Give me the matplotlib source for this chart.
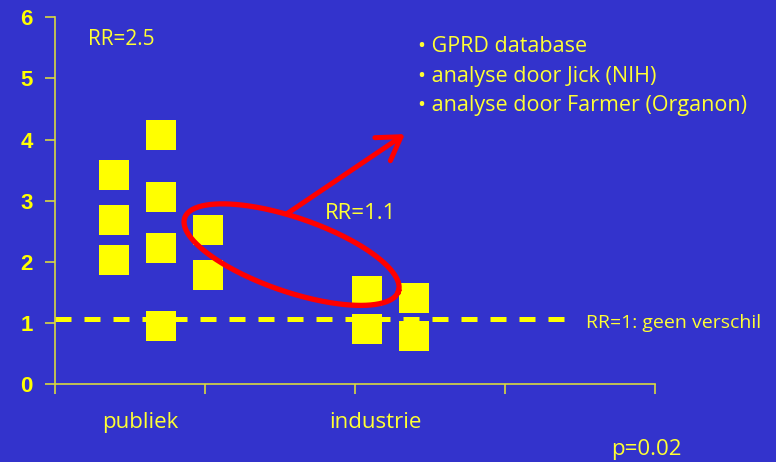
import numpy as np
import matplotlib
matplotlib.use("Agg")
import matplotlib.pyplot as plt

# relative risk estimates per study, grouped by sponsor
publiek_x = [0.39, 0.39, 0.39, 0.705, 0.705, 0.705, 0.705, 1.02, 1.02]
publiek_rr = [3.42, 2.68, 2.03, 4.07, 3.07, 2.23, 0.945, 2.53, 1.79]
industrie_x = [2.08, 2.08, 2.39, 2.39]
industrie_rr = [1.525, 0.90, 1.41, 0.79]

categories = ["publiek", "industrie"]
category_x = [0.567, 2.133]
yticks = [0, 1, 2, 3, 4, 5, 6]
bullets = ["GPRD database", "analyse door Jick (NIH)", "analyse door Farmer (Organon)"]

BG = "#3333cc"
YEL = "#ffff00"
TXT = "#ffff33"
AXC = "#d8d840"
text_font = ["Open Sans", "DejaVu Sans"]

fig = plt.figure(figsize=(7.76, 4.62), dpi=100)
fig.patch.set_facecolor(BG)
ax = fig.add_axes([55 / 776, (462 - 384.3) / 462, 600 / 776, 367 / 462])
ax.set_facecolor(BG)
ax.set_xlim(0, 4)
ax.set_ylim(0, 6)

for s in ["top", "right"]:
    ax.spines[s].set_visible(False)
for s in ["left", "bottom"]:
    ax.spines[s].set_color(AXC)
    ax.spines[s].set_linewidth(1.2)

ax.set_xticks([0, 1, 2, 3, 4])
ax.set_xticklabels([])
ax.set_yticks(yticks)
ax.set_yticklabels([str(t) for t in yticks], fontfamily="Liberation Sans",
                   fontweight="bold", fontsize=16, color=YEL)
ax.tick_params(axis="both", direction="out", length=7, width=1.2, color=AXC)
ax.tick_params(axis="y", pad=9)

# reference line RR=1
ax.plot([0, 3.39], [1.07, 1.07], color=YEL, lw=3.6,
        linestyle=(0, (3.2, 2.6)), dash_capstyle="butt", zorder=2)

ax.plot(publiek_x, publiek_rr, "s", color=YEL, markersize=21,
        markeredgewidth=0, zorder=3, clip_on=False)
ax.plot(industrie_x, industrie_rr, "s", color=YEL, markersize=21,
        markeredgewidth=0, zorder=3, clip_on=False)

# red ellipse, drawn in pixel space around a data centre
fig.canvas.draw()
c = ax.transData.transform((1.577, 2.12))
t = np.linspace(0, 2 * np.pi, 300)
a, b, th = 113, 37, np.deg2rad(-19)
ex = c[0] + a * np.cos(t) * np.cos(th) - b * np.sin(t) * np.sin(th)
ey = c[1] + a * np.cos(t) * np.sin(th) + b * np.sin(t) * np.cos(th)
pts = ax.transData.inverted().transform(np.column_stack([ex, ey]))
ax.plot(pts[:, 0], pts[:, 1], color="red", lw=3.8, zorder=4)

ax.annotate("", xy=(2.333, 4.09), xytext=(1.553, 2.80),
            arrowprops=dict(arrowstyle="->,head_length=0.8,head_width=0.5",
                            color="red", lw=3.6, mutation_scale=20,
                            shrinkA=0, shrinkB=0), zorder=4)

ax.text(0.22, 5.63, "RR=2.5", color=TXT, fontsize=15, family=text_font, va="center")
ax.text(1.80, 2.80, "RR=1.1", color=TXT, fontsize=16, family=text_font, va="center")
ax.text(3.54, 1.00, "RR=1: geen verschil", color=TXT, fontsize=14,
        family=text_font, va="center", clip_on=False)
for i, line in enumerate(bullets):
    ax.text(2.42, 5.52 - i * 0.48, "\u2022 " + line, color=TXT, fontsize=15.5,
            family=text_font, va="center", clip_on=False)

for name, x in zip(categories, category_x):
    ax.text(x, -0.62, name, color=TXT, fontsize=16, family=text_font,
            ha="center", va="center", clip_on=False)
ax.text(3.71, -1.06, "p=0.02", color=TXT, fontsize=16, family=text_font,
        va="center", clip_on=False)

fig.savefig("out.png", dpi=100, facecolor=BG)
